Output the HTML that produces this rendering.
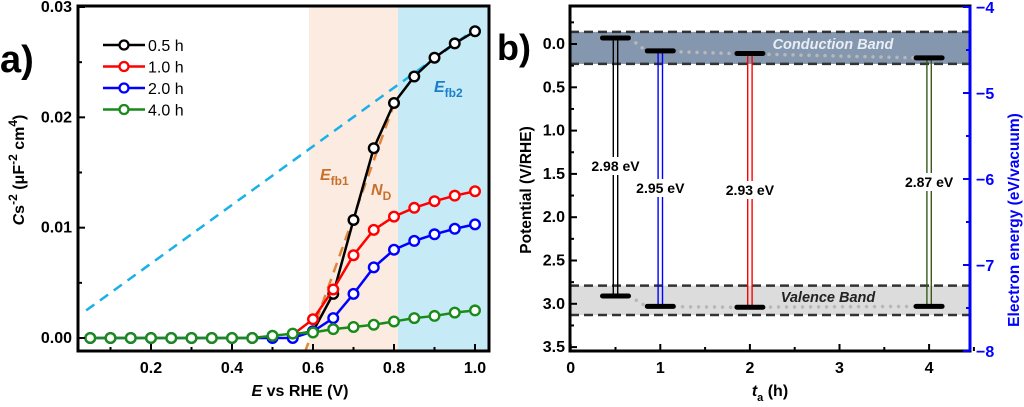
<!DOCTYPE html>
<html><head><meta charset="utf-8"><style>
body{margin:0;background:#fff;width:1024px;height:402px;overflow:hidden;font-family:"Liberation Sans",sans-serif}
svg text{font-family:"Liberation Sans",sans-serif;font-weight:bold}
</style></head><body>
<svg id="c" width="1024" height="402" viewBox="0 0 1024 402" xmlns="http://www.w3.org/2000/svg"></svg>
<script>
const xsA=[0.05,0.1,0.15,0.2,0.25,0.3,0.35,0.4,0.45,0.5,0.55,0.6,0.65,0.7,0.75,0.8,0.85,0.9,0.95,1.0];
const s05=[null,null,null,null,null,null,null,null,null,null,0.0003,0.0006,0.004,0.0107,0.0172,0.0213,0.0237,0.0254,0.0267,0.0278];
const s10=[null,null,null,null,null,null,null,null,null,null,0.0003,0.0017,0.0044,0.0075,0.0098,0.011,0.0118,0.0124,0.0129,0.0133];
const s20=[0,0,0,0,0,0,0,0,0,0,0,0.0006,0.0018,0.004,0.0064,0.008,0.0088,0.0094,0.0099,0.0103];
const s40=[0,0,0,0,0,0,0,0,0,0.0002,0.0004,0.0005,0.0008,0.001,0.0012,0.0015,0.0018,0.002,0.0023,0.0025];
const seriesNames=["0.5 h","1.0 h","2.0 h","4.0 h"];
const xTicksA=[0.2,0.4,0.6,0.8,1.0];
const yTicksA=[0,0.01,0.02,0.03];
const yTickLabA=["0.00","0.01","0.02","0.03"];
const ta=[0.5,1,2,4];
const cb=[-0.07,0.08,0.11,0.16];
const vb=[2.91,3.03,3.04,3.03];
const gaps=["2.98 eV","2.95 eV","2.93 eV","2.87 eV"];
const xTicksB=[0,1,2,3,4];
const yTicksB=[0,0.5,1,1.5,2,2.5,3,3.5];
const yTicksR=[-4,-5,-6,-7,-8];

const S=document.getElementById('c');const NS="http://www.w3.org/2000/svg";
function el(t,a,txt){const e=document.createElementNS(NS,t);for(const k in a)e.setAttribute(k,a[k]);if(txt!=null)e.textContent=txt;S.appendChild(e);return e;}
const ax=v=>70+(v)*405, ay=v=>338-v*11033;
let e;
e=el('rect',{x:309,y:6,width:89,height:345,fill:'#fbebe1'});
e=el('rect',{x:398,y:6,width:91,height:345,fill:'#c6ebf7'});
e=el('line',{x1:ax(0.04),y1:ay(0.0025),x2:ax(1.0),y2:ay(0.028),stroke:'#1ab0e8','stroke-width':2.5,'stroke-dasharray':'10,7'});
e=el('line',{x1:ax(0.58),y1:ay(-0.0013),x2:ax(0.8),y2:ay(0.0212),stroke:'#e0853a','stroke-width':2.5,'stroke-dasharray':'10,7'});
const cols=['#000','#ff0000','#0000ff','#1a8a1a'];
[s05,s10,s20,s40].forEach((s,i)=>{
  let pts=[];xsA.forEach((x,j)=>{if(s[j]!=null)pts.push(ax(x)+','+ay(s[j]));});
  e=el('polyline',{points:pts.join(' '),fill:'none',stroke:cols[i],'stroke-width':2.5});
  
  xsA.forEach((x,j)=>{if(s[j]!=null){e=el('circle',{cx:ax(x),cy:ay(s[j]),r:4.8,fill:'#fff',stroke:cols[i],'stroke-width':2.4});
    }});
});
e=el('rect',{x:78,y:6,width:411,height:345,fill:'none',stroke:'#000','stroke-width':3});
for(let v=0.1;v<1.05;v+=0.1)el('line',{x1:ax(v),y1:351,x2:ax(v),y2:347,stroke:'#000','stroke-width':2});
for(let v=0.005;v<0.03;v+=0.01)el('line',{x1:78,y1:ay(v),x2:82,y2:ay(v),stroke:'#000','stroke-width':2});
xTicksA.forEach(v=>{el('line',{x1:ax(v),y1:351,x2:ax(v),y2:344,stroke:'#000','stroke-width':2});
  e=el('text',{x:ax(v),y:373,'font-size':16,'text-anchor':'middle'},v.toFixed(1));});
yTicksA.forEach((v,i)=>{el('line',{x1:78,y1:ay(v),x2:85,y2:ay(v),stroke:'#000','stroke-width':2});
  e=el('text',{x:72,y:ay(v)+5,'font-size':16,'text-anchor':'end'},yTickLabA[i]);});
e=el('text',{x:300,y:396,'font-size':16,'text-anchor':'middle'});e.innerHTML='<tspan font-style="italic">E</tspan> vs RHE (V)';
e=el('text',{transform:'translate(24,170) rotate(-90)','font-size':16,'text-anchor':'middle'});e.innerHTML='<tspan font-style="italic">C</tspan>s<tspan dy="-7" font-size="12">-2</tspan><tspan dy="7"> (μF</tspan><tspan dy="-7" font-size="12">-2</tspan><tspan dy="7"> cm</tspan><tspan dy="-7" font-size="12">4</tspan><tspan dy="7">)</tspan>';
e=el('text',{x:0,y:72,'font-size':38},'a)');
seriesNames.forEach((n,i)=>{const y=45+i*21.5;
  el('line',{x1:103,y1:y,x2:145,y2:y,stroke:cols[i],'stroke-width':2.5});
  el('circle',{cx:124,cy:y,r:4.5,fill:'#fff',stroke:cols[i],'stroke-width':2.3});
  e=el('text',{x:148,y:y+6,'font-size':16,style:'font-weight:normal'},n);});
e=el('text',{x:320,y:180,'font-size':16,fill:'#c8702a'});e.innerHTML='<tspan font-style="italic">E</tspan><tspan dy="5" font-size="12">fb1</tspan>';
e=el('text',{x:371,y:195,'font-size':16,fill:'#c8702a'});e.innerHTML='<tspan font-style="italic">N</tspan><tspan dy="5" font-size="12">D</tspan>';
e=el('text',{x:434,y:92,'font-size':16,fill:'#1a7fc8'});e.innerHTML='<tspan font-style="italic">E</tspan><tspan dy="5" font-size="12">fb2</tspan>';

// Panel B
const bx=v=>570.7+v*89.6, by=v=>44+v*86.6, ry=v=>7+(-4-v)*86;
e=el('rect',{x:570,y:by(-0.14),width:400,height:by(0.23)-by(-0.14),fill:'#8597ae'});
e=el('rect',{x:570,y:by(2.79),width:400,height:by(3.13)-by(2.79),fill:'#dcdcdc'});
[-0.14,0.23,2.79,3.13].forEach(v=>el('line',{x1:570,y1:by(v),x2:970,y2:by(v),stroke:'#333','stroke-width':2.5,'stroke-dasharray':'9,5'}));
e=el('text',{x:833,y:49,'font-size':14.5,fill:'#e8eef5','font-style':'italic','text-anchor':'middle'},'Conduction Band');
e=el('text',{x:828,y:302,'font-size':14.5,fill:'#222','font-style':'italic','text-anchor':'middle'},'Valence Band');
[cb,vb].forEach(arr=>{let d='';ta.forEach((t,i)=>{d+=(i?'L':'M')+(bx(t)+(i?-14:14))+','+by(arr[i]);});
  e=el('path',{d:d,fill:'none',stroke:'#b8b8b8','stroke-width':3.5,'stroke-dasharray':'0,8','stroke-linecap':'round'});});
const bcols=['#000','#0000ff','#ff0000','#3a5a1a'];
ta.forEach((t,i)=>{const x=bx(t);
  [-2.2,2.2].forEach(dx=>el('line',{x1:x+dx,y1:by(cb[i]),x2:x+dx,y2:by(vb[i]),stroke:bcols[i],'stroke-width':1.4}));
  e=el('line',{x1:x-13,y1:by(cb[i]),x2:x+13,y2:by(cb[i]),stroke:'#000','stroke-width':5,'stroke-linecap':'round'});
  e=el('line',{x1:x-13,y1:by(vb[i]),x2:x+13,y2:by(vb[i]),stroke:'#000','stroke-width':5,'stroke-linecap':'round'});
  const ly=[170,192,194,186][i];
  el('rect',{x:x-28,y:ly-13,width:56,height:18,fill:'#fff'});
  e=el('text',{x:x,y:ly+1,'font-size':14,'text-anchor':'middle'},gaps[i]);
});
e=el('rect',{x:570,y:6,width:400,height:345,fill:'none',stroke:'#000','stroke-width':3});
el('line',{x1:970,y1:6,x2:970,y2:351,stroke:'#0000ff','stroke-width':3});
for(let v=0.5;v<4.6;v+=1)el('line',{x1:bx(v),y1:351,x2:bx(v),y2:347,stroke:'#000','stroke-width':2});
for(let v=-0.25;v<3.6;v+=0.5)el('line',{x1:570,y1:by(v),x2:574,y2:by(v),stroke:'#000','stroke-width':2});
for(let v=-4.5;v>-8;v-=1)el('line',{x1:970,y1:ry(v),x2:966,y2:ry(v),stroke:'#0000ff','stroke-width':2});
xTicksB.forEach(v=>{el('line',{x1:bx(v),y1:351,x2:bx(v),y2:344,stroke:'#000','stroke-width':2});
  e=el('text',{x:bx(v),y:373,'font-size':16,'text-anchor':'middle'},String(v));});
yTicksB.forEach(v=>{el('line',{x1:570,y1:by(v),x2:577,y2:by(v),stroke:'#000','stroke-width':2});
  e=el('text',{x:565,y:by(v)+5,'font-size':16,'text-anchor':'end'},v.toFixed(1));});
yTicksR.forEach(v=>{el('line',{x1:970,y1:ry(v),x2:963,y2:ry(v),stroke:'#0000ff','stroke-width':2});
  e=el('text',{x:976,y:ry(v)+6,'font-size':16,fill:'#0000ff'},String(v).replace('-','−'));});
e=el('text',{x:770,y:396,'font-size':16,'text-anchor':'middle'});e.innerHTML='<tspan font-style="italic">t</tspan><tspan dy="5" font-size="11">a</tspan><tspan dy="-5"> (h)</tspan>';
e=el('text',{transform:'translate(531,190) rotate(-90)','font-size':15.5,'text-anchor':'middle'},'Potential (V/RHE)');
e=el('text',{transform:'translate(1019,220) rotate(-90)','font-size':15.5,'text-anchor':'middle',fill:'#0000ff'},'Electron energy (eV/vacuum)');
e=el('text',{x:497,y:60,'font-size':36},'b)');
</script>
</body></html>
